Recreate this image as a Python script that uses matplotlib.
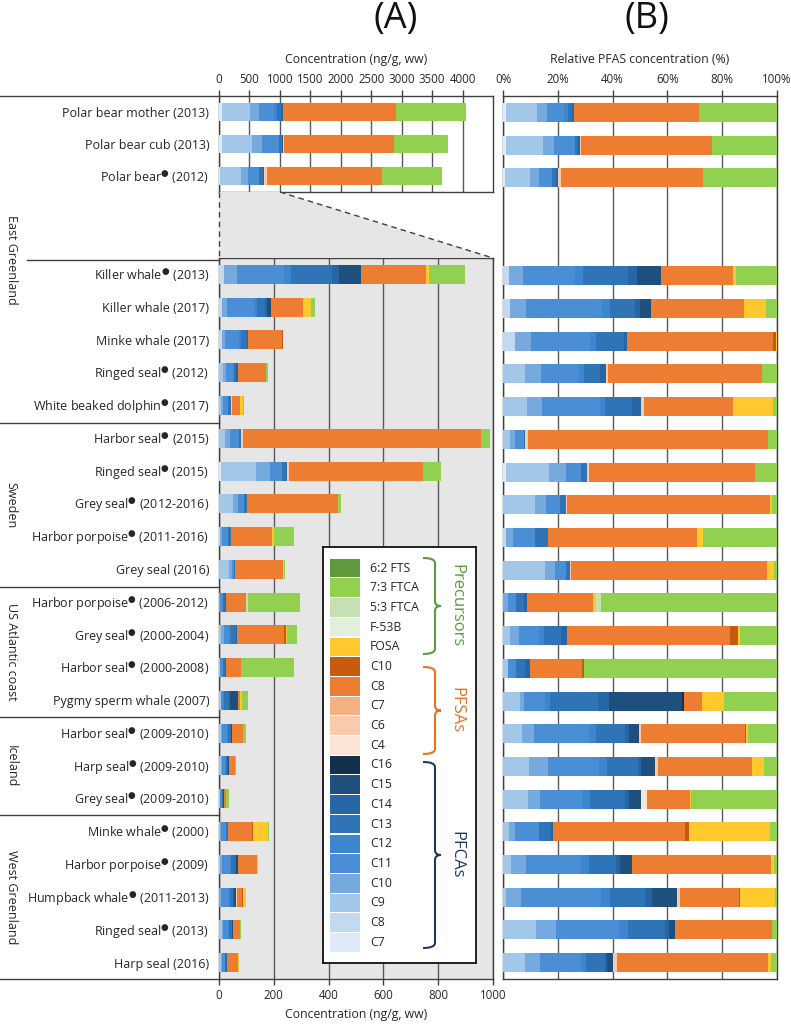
import numpy as np
import matplotlib
matplotlib.use("Agg")
import matplotlib.pyplot as plt
import matplotlib.transforms as mtransforms
from matplotlib.lines import Line2D
from matplotlib.patches import Polygon, Rectangle, PathPatch
from matplotlib.path import Path

plt.rcParams["font.family"] = ["Open Sans", "DejaVu Sans"]
plt.rcParams["mathtext.fontset"] = "dejavusans"

DOT = "$^{\u25cf}$"

# ---- data (ng/g ww), one array per compound, rows top -> bottom ----
rows = ["Polar bear mother (2013)", "Polar bear cub (2013)", "Polar bear" + DOT + " (2012)",
        "Killer whale" + DOT + " (2013)", "Killer whale (2017)", "Minke whale (2017)",
        "Ringed seal" + DOT + " (2012)", "White beaked dolphin" + DOT + " (2017)",
        "Harbor seal" + DOT + " (2015)", "Ringed seal" + DOT + " (2015)",
        "Grey seal" + DOT + " (2012-2016)", "Harbor porpoise" + DOT + " (2011-2016)",
        "Grey seal (2016)", "Harbor porpoise" + DOT + " (2006-2012)",
        "Grey seal" + DOT + " (2000-2004)", "Harbor seal" + DOT + " (2000-2008)",
        "Pygmy sperm whale (2007)", "Harbor seal" + DOT + " (2009-2010)",
        "Harp seal" + DOT + " (2009-2010)", "Grey seal" + DOT + " (2009-2010)",
        "Minke whale" + DOT + " (2000)", "Harbor porpoise" + DOT + " (2009)",
        "Humpback whale" + DOT + " (2011-2013)", "Ringed seal" + DOT + " (2013)",
        "Harp seal (2016)"]
# row slots on the y axis (two empty slots under the polar bears for the zoom)
slots = [0, 1, 2] + list(range(5, 27))

groups = ["East Greenland", "Sweden", "US Atlantic coast", "Iceland", "West Greenland"]
group_edges = [-0.5, 9.5, 14.5, 18.5, 21.5, 26.5]

pfca_c7 = [49, 45, 22, 0, 0, 0, 0, 0, 0, 8.1, 0, 0, 0, 0, 0, 0, 0, 0, 0, 0, 0, 0, 0, 0, 0]
pfca_c8 = [0, 0, 0, 20, 9.5, 10, 0, 0, 0, 0, 0, 3.3, 0, 0, 0, 0, 0, 0, 0, 0, 0, 0, 0, 0, 0]
pfca_c9 = [458, 505, 345, 0, 0, 0, 14.2, 8.0, 23.7, 128, 52.4, 0, 36.6, 0, 7.7, 4.9, 6.3, 6.7,
           6.1, 3.2, 3.8, 4.0, 1.0, 9.6, 5.8]
pfca_c10 = [142, 151, 117, 44, 20, 13.6, 11, 4.9, 17.8, 49.4, 16.9, 6.6, 9.4, 5.3, 9.2, 0, 1.7,
            4.2, 4.2, 1.6, 4.0, 7.9, 5.4, 5.8, 4.0]
pfca_c11 = [259, 283, 165, 172, 97, 50.5, 24.7, 18.9, 32.6, 46.2, 22.6, 21.7, 9.6, 8.9, 20.9, 8.2,
            7.8, 19.5, 11.9, 5.3, 16.0, 29.2, 28.9, 18.1, 11.1]
pfca_c12 = [49, 0, 0, 27, 10.5, 5.6, 3.1, 1.7, 0, 0, 0, 0, 0, 0, 4.9, 0, 1.9, 2.5, 1.7, 1.0, 0,
            3.9, 3.3, 2.4, 1.3]
pfca_c13 = [65, 45, 66, 148, 32, 24.2, 10.4, 9.0, 5.9, 17.8, 9.8, 14.0, 2.9, 8.9, 17.7, 9.3, 18.3,
            10.3, 7.1, 4.5, 8.4, 14.5, 12.7, 10.7, 4.9]
pfca_c14 = [24, 23, 22, 27, 6.3, 2.1, 4.3, 3.0, 0, 0, 0, 0, 0, 3.0, 6.0, 4.9, 4.2, 1.6, 0.8, 0.5,
            1.1, 1.7, 2.7, 1.3, 0.7]
pfca_c15 = [0, 0, 0, 79, 14, 0, 0, 0, 0, 0, 0, 0, 0, 0, 0, 0, 27.9, 3.4, 3.2, 1.6, 0, 6.6, 9.1,
            1.7, 1.4]
pfca_c16 = [0, 0, 0, 0, 0, 0, 0, 0, 0, 0, 0, 0, 0, 0, 0, 0, 0.5, 0, 0, 0, 0, 0, 0, 0, 0]
pfsa_c4 = [0, 0, 0, 0, 0, 0, 0, 0, 0, 0, 0, 0, 0, 0, 0, 0, 0, 0, 0, 0.8, 0, 0, 0, 0, 0]
pfsa_c6 = [12, 23, 44, 0, 0, 0, 1.3, 1.1, 8.9, 4.9, 2.2, 0, 1.4, 0, 0, 0, 0, 0.7, 0.8, 0, 0, 0,
           0.9, 0, 1.2]
pfsa_c7 = [0] * 25
pfsa_c8 = [1843, 1798, 1895, 237, 118, 125, 101, 29.3, 866, 490, 329, 149, 172, 71, 170, 51.8,
           7.1, 36.9, 21.5, 5.4, 87.5, 72.7, 21.3, 28.1, 40.2]
pfsa_c10 = [0, 0, 0, 0, 0, 2.4, 0, 0, 0, 0, 0, 0, 0, 0, 8.6, 1.4, 0, 0.6, 0, 0, 2.7, 0, 0.6, 0, 0]
fosa = [0, 0, 0, 11, 28, 1.2, 0, 13.0, 0, 0, 3.1, 5.8, 5.5, 3.0, 1.7, 0, 8.1, 0.6, 2.8, 0.2, 53.9,
        1.6, 12.4, 0, 0.9]
f53b = [0] * 25
ftca_53 = [0, 0, 0, 0, 0, 0, 0, 0, 0, 0, 0, 0, 0, 5.0, 0, 0, 0, 0, 0, 0, 0, 0, 0, 0, 0]
ftca_73 = [1158, 893, 990, 133, 14.4, 0, 9.7, 1.35, 32.6, 66.4, 7.5, 74.3, 2.9, 190, 38.9, 193,
           20.3, 10.3, 3.0, 11.0, 4.9, 1.7, 0.9, 1.3, 1.5]
fts_62 = [0] * 25

# stack order left -> right
series = [
    ("C7", pfca_c7, "#deeaf7"), ("C8", pfca_c8, "#c2d9f0"), ("C9", pfca_c9, "#a3c7e9"),
    ("C10", pfca_c10, "#76aadf"), ("C11", pfca_c11, "#4a8fd5"), ("C12", pfca_c12, "#3a86d0"),
    ("C13", pfca_c13, "#2e74b6"), ("C14", pfca_c14, "#2766a4"), ("C15", pfca_c15, "#1f4f7c"),
    ("C16", pfca_c16, "#14304f"),
    ("C4", pfsa_c4, "#fbe4d6"), ("C6", pfsa_c6, "#f8cbad"), ("C7", pfsa_c7, "#f4b183"),
    ("C8", pfsa_c8, "#ed7d31"), ("C10", pfsa_c10, "#c55a11"),
    ("FOSA", fosa, "#ffc92e"), ("F-53B", f53b, "#e2efda"), ("5:3 FTCA", ftca_53, "#c5e0b4"),
    ("7:3 FTCA", ftca_73, "#92d050"), ("6:2 FTS", fts_62, "#5f9a3f"),
]

vals = np.array([s[1] for s in series], dtype=float)       # (n_series, n_rows)
rel = vals / vals.sum(axis=0) * 100.0
ypos = np.array(slots, dtype=float)

GRID = "#595959"
TXT = "#262626"
W, H = 791, 1026
fig = plt.figure(figsize=(W / 100, H / 100), dpi=100)


def px_axes(x0, y0, x1, y1):
    return fig.add_axes([x0 / W, 1 - y1 / H, (x1 - x0) / W, (y1 - y0) / H])


axA1 = px_axes(219, 96, 493, 192)
axA2 = px_axes(219, 258, 493, 979)
axB = px_axes(503, 96, 777, 979)
axA2.set_facecolor("#e6e6e6")


def stacked(ax, data, mask):
    left = np.zeros(mask.sum())
    for k, (name, _, col) in enumerate(series):
        v = data[k][mask]
        ax.barh(ypos[mask], v, left=left, height=0.58, color=col, linewidth=0, zorder=3)
        left += v


top_mask = ypos < 3
stacked(axA1, vals, top_mask)
stacked(axA2, vals, ~top_mask)
stacked(axB, rel, np.ones(len(ypos), bool))

for ax in (axA1, axA2, axB):
    ax.grid(axis="x", color=GRID, lw=1.0, zorder=1)
    ax.set_axisbelow(True)
    for sp in ax.spines.values():
        sp.set_color("#404040")
        sp.set_linewidth(1.0)
    ax.tick_params(colors=TXT, labelsize=8.3, length=4, width=1, color="#404040")

axA1.set_xlim(0, 4500)
axA1.set_ylim(2.5, -0.5)
axA1.set_xticks(np.arange(0, 4001, 500))
axA1.xaxis.tick_top()
axA1.xaxis.set_label_position("top")
axA1.set_xlabel("Concentration (ng/g, ww)", fontsize=8.8, color=TXT, labelpad=7)

axA2.set_xlim(0, 1000)
axA2.set_ylim(26.5, 4.5)
axA2.set_xticks(np.arange(0, 1001, 200))
axA2.set_xlabel("Concentration (ng/g, ww)", fontsize=8.8, color=TXT, labelpad=4)

for ax, m in ((axA1, top_mask), (axA2, ~top_mask)):
    ax.set_yticks(ypos[m])
    ax.set_yticklabels([r for r, keep in zip(rows, m) if keep], fontsize=9, color=TXT)
    ax.tick_params(axis="y", length=0, pad=7)

axB.set_xlim(0, 100)
axB.set_ylim(26.5, -0.5)
axB.set_xticks(np.arange(0, 101, 20))
axB.set_xticklabels(["%d%%" % t for t in range(0, 101, 20)])
axB.xaxis.tick_top()
axB.xaxis.set_label_position("top")
axB.set_xlabel("Relative PFAS concentration (%)", fontsize=8.8, color=TXT, labelpad=7)
axB.set_yticks([])

fig.text(396 / W, 1 - 19 / H, "(A)", fontsize=26, ha="center", va="center", color="#111111")
fig.text(647 / W, 1 - 19 / H, "(B)", fontsize=26, ha="center", va="center", color="#111111")

# zoom wedge between the two A panels
inv = fig.transFigure.inverted()


def to_fig(ax, x, y):
    return inv.transform(ax.transData.transform((x, y)))


p1 = to_fig(axA1, 0, 2.5)
p2 = to_fig(axA1, 1000, 2.5)
p3 = to_fig(axA2, 1000, 4.5)
p4 = to_fig(axA2, 0, 4.5)
fig.patches.append(Polygon([p1, p2, p3, p4], closed=True, transform=fig.transFigure,
                           facecolor="#e6e6e6", edgecolor="none", zorder=0))
for a, b in ((p1, p4), (p2, p3)):
    fig.add_artist(Line2D([a[0], b[0]], [a[1], b[1]], transform=fig.transFigure,
                          color="#404040", lw=1.0, ls=(0, (4, 3))))

# group separators and labels on the left
blend = mtransforms.blended_transform_factory(fig.transFigure, axB.transData)
x_axis = 219 / W
for e in group_edges:
    fig.add_artist(Line2D([0, x_axis], [e, e], transform=blend, color="#404040", lw=1.0))
fig.add_artist(Line2D([27 / W, x_axis], [4.5, 4.5], transform=blend, color="#404040", lw=1.0))
for g, lo, hi in zip(groups, group_edges[:-1], group_edges[1:]):
    fig.text(11 / W, (lo + hi) / 2, g, transform=blend, rotation=-90, fontsize=9,
             ha="center", va="center", color=TXT)

# legend box
axL = px_axes(323, 547, 476, 963)
axL.set_zorder(5)
axL.set_xlim(0, 153)
axL.set_ylim(416, 0)
axL.set_xticks([])
axL.set_yticks([])
for sp in axL.spines.values():
    sp.set_color("#111111")
    sp.set_linewidth(1.3)
for i, (name, _, col) in enumerate(series[::-1]):
    yc = 21 + i * 19.7
    axL.add_patch(Rectangle((7, yc - 9.3), 30, 18.6, facecolor=col, edgecolor="none"))
    axL.text(47, yc, name, fontsize=8.8, va="center", ha="left", color=TXT)


def brace(ax, x0, ytop, ybot, color):
    x1, tip, r = x0 + 12, x0 + 18, 5
    ym = (ytop + ybot) / 2
    verts = [(x0, ytop), (x1, ytop), (x1, ytop + r), (x1, ym - r), (x1, ym), (tip, ym),
             (x1, ym), (x1, ym + r), (x1, ybot - r), (x1, ybot), (x0, ybot)]
    codes = [Path.MOVETO, Path.CURVE3, Path.CURVE3, Path.LINETO, Path.CURVE3, Path.CURVE3,
             Path.CURVE3, Path.CURVE3, Path.LINETO, Path.CURVE3, Path.CURVE3]
    ax.add_patch(PathPatch(Path(verts, codes), facecolor="none", edgecolor=color, lw=1.5))


for name, yt, yb, col in (("Precursors", 11, 107, "#5b9b3a"),
                          ("PFSAs", 120, 207, "#e8701f"),
                          ("PFCAs", 215, 401, "#1f3864")):
    brace(axL, 100, yt, yb, col)
    axL.text(133, (yt + yb) / 2, name, rotation=-90, fontsize=12, color=col,
             ha="center", va="center")

fig.savefig("out.png", dpi=100)
